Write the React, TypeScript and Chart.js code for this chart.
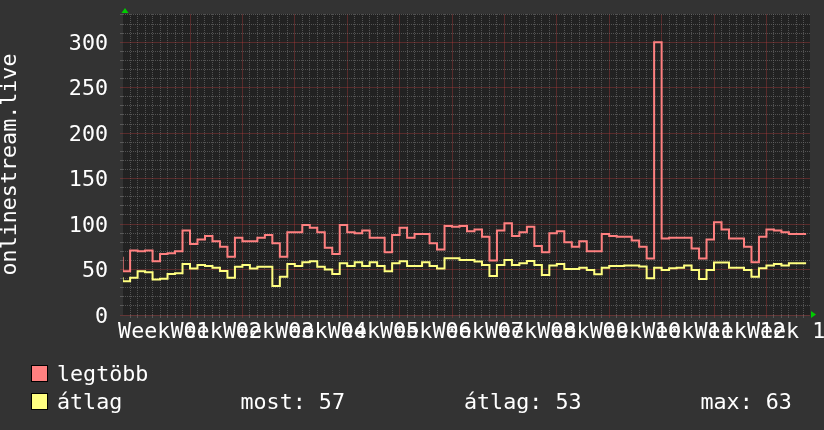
import React, { useEffect, useRef } from 'react';
import { Chart, registerables } from 'chart.js';

Chart.register(...registerables);

// ---------- data ----------
const Y_TITLE = 'onlinestream.live';
const SERIES_NAMES = ['legtöbb', 'átlag'];
const SERIES_COLORS = ['#ff8080', '#ffff80'];

// daily maximum ("legtöbb"), one value per day, oldest first
const MAX_VALUES = [
  64, 48, 71, 70, 71, 59, 67, 68, 70, 93,
  78, 83, 87, 81, 75, 64, 85, 81, 81, 85,
  88, 79, 64, 91, 91, 99, 96, 91, 74, 67,
  99, 91, 90, 93, 85, 85, 69, 88, 96, 85,
  89, 89, 79, 72, 98, 97, 98, 92, 94, 86,
  60, 93, 101, 87, 91, 97, 76, 69, 90, 92,
  80, 75, 81, 70, 70, 89, 87, 86, 86, 82,
  75, 62, 300, 84, 85, 85, 85, 73, 62, 83,
  102, 94, 84, 84, 75, 58, 86, 94, 93, 91,
  89, 89,
];

// daily average ("átlag")
const AVG_VALUES = [
  41.5, 37, 41, 48, 47, 39, 40, 45, 46, 56,
  51, 55, 54, 52, 48.5, 41, 53, 55, 51, 53,
  53, 32, 42, 56, 54, 58, 59, 53, 50, 45,
  57, 54, 58, 54, 58, 54, 48, 57, 59, 54,
  54, 58, 54, 51, 62.5, 62.5, 60.6, 60.6, 58.8, 55,
  43, 55, 60.6, 55, 57, 59.5, 55, 44, 54.4, 56,
  50.7, 50.7, 52, 49.6, 44.8, 52, 54, 54, 54.4, 54.4,
  53.3, 40.4, 52, 49.6, 51.4, 52, 54.4, 49.6, 39.7, 49.6,
  57.7, 57.7, 52, 52, 49.6, 42, 51.4, 54.4, 56, 54.4,
  57, 57,
];

const WEEK_LABELS = [
  'Week 01', 'Week 02', 'Week 03', 'Week 04', 'Week 05', 'Week 06', 'Week 07',
  'Week 08', 'Week 09', 'Week 10', 'Week 11', 'Week 12', 'Week 13',
];

const STAT_TEXTS = ['most: 57', 'átlag: 53', 'max: 63'];

// time axis in days (day boundaries at integers)
const X_MIN = -0.95;
const X_MAX = 90.82;
const DATA_END = 90.3;
const FIRST_WEEK_START = 1;
const Y_MIN = 0;
const Y_MAX = 331;
const Y_MINOR_STEP = 10;
const Y_MAJOR_STEP = 50;

// ---------- styles ----------
const FONT_FAMILY = "'DejaVu Sans Mono', monospace";
const FONT_SIZE = 21.7;
const BG = '#333333';
const PLOT_BG = '#222222';
const MINOR_GRID = 'rgba(115,115,115,0.6)';
const MAJOR_GRID = 'rgba(185,60,60,0.36)';
const DOTTED = [1, 1];
const ARROW = '#00cc00';

const near = (a: number, b: number) => Math.abs(a - b) < 1e-6;
const weekCenters = WEEK_LABELS.map((_, k) => FIRST_WEEK_START + 7 * k + 3.5);
const weekIndexOf = (v: number) => weekCenters.findIndex((c) => near(c, v));
const isMajorDay = (v: number) => {
  const k = (v - FIRST_WEEK_START) / 7;
  return near(k, Math.round(k)) && Math.round(k) >= 1;
};
const isMajorY = (v: number) => near(v / Y_MAJOR_STEP, Math.round(v / Y_MAJOR_STEP));

const Y_TICKS: number[] = [];
for (let v = Y_MIN; v <= Y_MAX; v += Y_MINOR_STEP) Y_TICKS.push(v);

const tickValue = (c: any) => (c && c.tick ? Number(c.tick.value) : NaN);

const toSteps = (vals: number[]) => {
  const pts = vals.map((v, i) => ({ x: i - 1, y: v }));
  pts.push({ x: DATA_END, y: vals[vals.length - 1] });
  return pts;
};

const bgPlugin = {
  id: 'rrdBackground',
  beforeDraw(chart: any) {
    const { ctx, chartArea: a } = chart;
    ctx.save();
    ctx.fillStyle = BG;
    ctx.fillRect(0, 0, chart.width, chart.height);
    ctx.fillStyle = PLOT_BG;
    ctx.fillRect(a.left, a.top, a.right - a.left, a.bottom - a.top);
    ctx.restore();
  },
};

const decorPlugin = {
  id: 'rrdDecor',
  afterDraw(chart: any) {
    const { ctx, chartArea: a } = chart;
    ctx.save();
    // axis arrows
    ctx.fillStyle = ARROW;
    ctx.beginPath();
    ctx.moveTo(a.left + 2, a.top - 6);
    ctx.lineTo(a.left - 1.5, a.top - 1);
    ctx.lineTo(a.left + 5.5, a.top - 1);
    ctx.closePath();
    ctx.fill();
    ctx.beginPath();
    ctx.moveTo(a.right + 6, a.bottom - 0.5);
    ctx.lineTo(a.right + 1, a.bottom - 4);
    ctx.lineTo(a.right + 1, a.bottom + 3);
    ctx.closePath();
    ctx.fill();

    // legend
    ctx.font = `${FONT_SIZE}px ${FONT_FAMILY}`;
    ctx.textBaseline = 'alphabetic';
    ctx.textAlign = 'left';
    const rows = [365.5, 393.5];
    SERIES_NAMES.forEach((name, i) => {
      const y = rows[i];
      ctx.fillStyle = SERIES_COLORS[i];
      ctx.fillRect(31.5, y, 16, 16);
      ctx.strokeStyle = '#000';
      ctx.lineWidth = 1;
      ctx.strokeRect(31.5, y, 16, 16);
      ctx.fillStyle = '#ffffff';
      ctx.fillText(name, 57, y + 15);
    });
    const statX = [240.5, 464, 700.5];
    STAT_TEXTS.forEach((t, i) => ctx.fillText(t, statX[i], rows[1] + 15));
    ctx.restore();
  },
};

export default function App() {
  const ref = useRef<HTMLCanvasElement>(null);
  useEffect(() => {
    document.body.style.margin = '0';
    document.body.style.background = BG;
    const chart = new Chart(ref.current as HTMLCanvasElement, {
      type: 'line',
      data: {
        datasets: [
          {
            label: SERIES_NAMES[0],
            data: toSteps(MAX_VALUES),
            borderColor: SERIES_COLORS[0],
            borderWidth: 2,
            stepped: 'after',
            pointRadius: 0,
            fill: false,
            clip: 0,
          },
          {
            label: SERIES_NAMES[1],
            data: toSteps(AVG_VALUES),
            borderColor: SERIES_COLORS[1],
            borderWidth: 2,
            stepped: 'after',
            pointRadius: 0,
            fill: false,
            clip: 0,
          },
        ],
      },
      plugins: [bgPlugin, decorPlugin],
      options: {
        animation: false,
        responsive: false,
        devicePixelRatio: 1,
        events: [],
        layout: { padding: { top: 14, right: 14, bottom: 0, left: 0 } },
        plugins: { legend: { display: false }, tooltip: { enabled: false } },
        scales: {
          x: {
            type: 'linear',
            min: X_MIN,
            max: X_MAX,
            bounds: 'data',
            afterBuildTicks: (scale: any) => {
              const ticks: { value: number }[] = [];
              for (let d = Math.ceil(X_MIN); d <= X_MAX; d++) ticks.push({ value: d });
              weekCenters.forEach((c) => ticks.push({ value: c }));
              scale.ticks = ticks;
            },
            afterFit: (scale: any) => {
              scale.height = 115;
              scale.paddingLeft = 0;
              scale.paddingRight = 0;
            },
            grid: {
              color: (c: any) => {
                const v = tickValue(c);
                if (weekIndexOf(v) >= 0) return 'rgba(0,0,0,0)';
                return isMajorDay(v) ? MAJOR_GRID : MINOR_GRID;
              },
              lineWidth: 1,
              drawTicks: true,
              tickLength: 3,
            },
            border: {
              display: false,
              dash: (c: any) => (isMajorDay(tickValue(c)) ? [] : DOTTED),
            },
            ticks: {
              autoSkip: false,
              maxRotation: 0,
              minRotation: 0,
              padding: 4,
              color: '#ffffff',
              font: { family: FONT_FAMILY, size: FONT_SIZE, lineHeight: 1 },
              callback: (v: any) => {
                const k = weekIndexOf(Number(v));
                return k >= 0 ? WEEK_LABELS[k] : '';
              },
            },
          },
          y: {
            type: 'linear',
            min: Y_MIN,
            max: Y_MAX,
            bounds: 'data',
            afterBuildTicks: (scale: any) => {
              scale.ticks = Y_TICKS.map((v) => ({ value: v }));
            },
            afterFit: (scale: any) => {
              scale.width = 123;
              scale.paddingTop = 0;
              scale.paddingBottom = 0;
            },
            grid: {
              color: (c: any) => (isMajorY(tickValue(c)) ? MAJOR_GRID : MINOR_GRID),
              lineWidth: 1,
              drawTicks: true,
              tickLength: 3,
            },
            border: {
              display: false,
              dash: (c: any) => (isMajorY(tickValue(c)) ? [] : DOTTED),
            },
            ticks: {
              autoSkip: false,
              padding: 12,
              labelOffset: 2,
              color: '#ffffff',
              font: { family: FONT_FAMILY, size: FONT_SIZE },
              callback: (v: any) => (isMajorY(Number(v)) ? String(v) : ''),
            },
            title: {
              display: true,
              text: Y_TITLE,
              color: '#ffffff',
              padding: 0,
              font: { family: FONT_FAMILY, size: FONT_SIZE, lineHeight: 1 },
            },
          },
        },
      },
    } as any);
    return () => chart.destroy();
  }, []);
  return (
    <canvas
      ref={ref}
      width={824}
      height={430}
      style={{ display: 'block', width: 824, height: 430 }}
    />
  );
}
